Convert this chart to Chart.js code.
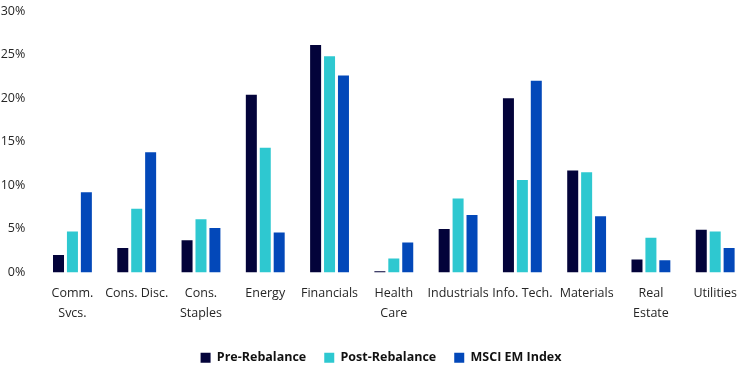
<!DOCTYPE html>
<html>
<head>
<meta charset="utf-8">
<script src="https://cdn.jsdelivr.net/npm/chart.js@4/dist/chart.umd.min.js"></script>
<style>
    html, body { margin: 0; padding: 0; background: #ffffff; overflow: hidden; }
    #wrap { position: relative; width: 748px; height: 374px; }
</style>
</head>
<body>
<div id="wrap"><canvas id="sectorChart"></canvas></div>
<script>
// Sector labels (multi-line where the reference wraps)
const sectors = [
    ['Comm.', 'Svcs.'], 'Cons. Disc.', ['Cons.', 'Staples'], 'Energy', 'Financials',
    ['Health', 'Care'], 'Industrials', 'Info. Tech.', 'Materials', ['Real', 'Estate'], 'Utilities'
];

// Weights in %
const preRebalance  = [2.0, 2.8, 3.7, 20.4, 26.1, 0.15, 5.0, 20.0, 11.7, 1.5, 4.9];
const postRebalance = [4.7, 7.3, 6.1, 14.3, 24.8, 1.6, 8.5, 10.6, 11.5, 4.0, 4.7];
const msciEmIndex   = [9.2, 13.8, 5.1, 4.6, 22.6, 3.45, 6.6, 22.0, 6.45, 1.4, 2.8];

const yTickLabels = ['0%', '5%', '10%', '15%', '20%', '25%', '30%'];

const FONT = "'Open Sans', sans-serif";
const TEXT = '#262626';

// Legend is a bit right of the canvas centre in the original
const legendShift = {
    id: 'legendShift',
    afterLayout(chart) {
        chart.legend.left += 7;
        chart.legend.right += 7;
    }
};

const canvas = document.getElementById('sectorChart');

new Chart(canvas, {
    type: 'bar',
    data: {
        labels: sectors,
        datasets: [
            { label: 'Pre-Rebalance', data: preRebalance, backgroundColor: '#03033a' },
            { label: 'Post-Rebalance', data: postRebalance, backgroundColor: '#2ec8d0' },
            { label: 'MSCI EM Index', data: msciEmIndex, backgroundColor: '#0348b9' }
        ]
    },
    plugins: [legendShift],
    options: {
        responsive: true,
        maintainAspectRatio: false,
        animation: false,
        layout: {
            padding: 0
        },
        datasets: {
            bar: {
                categoryPercentage: 0.65,
                barPercentage: 0.79
            }
        },
        scales: {
            x: {
                grid: { display: false, drawTicks: false },
                border: { display: false },
                ticks: {
                    autoSkip: false,
                    maxRotation: 0,
                    padding: 11,
                    color: TEXT,
                    font: { family: FONT, size: 12.5, lineHeight: 1.6 }
                },
                afterFit: (scale) => { scale.height = 61; }
            },
            y: {
                min: 0,
                max: 30,
                grid: { display: false, drawTicks: false },
                border: { display: false },
                ticks: {
                    stepSize: 5,
                    padding: 15,
                    color: TEXT,
                    font: { family: FONT, size: 12.5 },
                    callback: (v, i) => yTickLabels[i]
                },
                afterFit: (scale) => {
                    scale.width = 40.3;
                    scale.paddingTop = 11;
                    scale.paddingBottom = 0;
                }
            }
        },
        plugins: {
            legend: {
                position: 'bottom',
                labels: {
                    boxWidth: 10,
                    boxHeight: 10,
                    padding: 18,
                    color: '#111111',
                    font: { family: FONT, size: 12.5, weight: '700' }
                }
            },
            tooltip: { enabled: false }
        }
    }
});
</script>
</body>
</html>
